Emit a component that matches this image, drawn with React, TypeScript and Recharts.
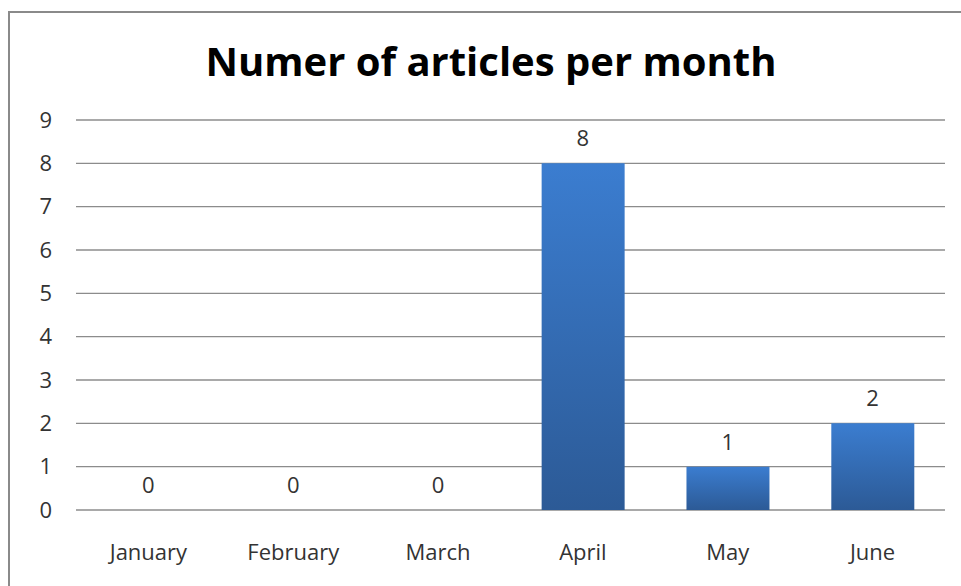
import { Bar, CartesianGrid, ComposedChart, LabelList, Line, XAxis, YAxis } from 'recharts'

const months = ['January', 'February', 'March', 'April', 'May', 'June']
const articleCounts = [0, 0, 0, 8, 1, 2]
const yTicks = [0, 1, 2, 3, 4, 5, 6, 7, 8, 9]

const FONT = '"Open Sans", sans-serif'
const TEXT_COLOR = '#333333'
const LABEL_STYLE = { fontSize: 22, fill: TEXT_COLOR, fontFamily: FONT }

export default function App() {
  const data = months.map((month, i) => ({ month, count: articleCounts[i] }))
  return (
    <div
      style={{
        position: 'fixed',
        left: 0,
        top: 0,
        width: 961,
        height: 586,
        overflow: 'hidden',
        background: '#ffffff',
        fontFamily: FONT,
      }}
    >
      {/* chart frame: runs off the right and bottom edges in the original */}
      <div
        style={{
          position: 'absolute',
          left: 8,
          top: 11,
          width: 1000,
          height: 640,
          border: '2px solid #8a8a8a',
        }}
      />
      <div
        style={{
          position: 'absolute',
          left: 0,
          top: 35,
          width: 982,
          textAlign: 'center',
          fontSize: 40,
          fontWeight: 700,
          lineHeight: '52px',
          color: '#000',
        }}
      >
        Numer of articles per month
      </div>
      <div style={{ position: 'absolute', left: 0, top: 0 }}>
        <ComposedChart
          width={961}
          height={586}
          data={data}
          barCategoryGap="21.5%"
          margin={{ top: 120, right: 16, bottom: 36, left: 16 }}
        >
          <defs>
            <linearGradient id="barFill" x1="0" y1="0" x2="0" y2="1">
              <stop offset="0%" stopColor="#3b7dd0" />
              <stop offset="100%" stopColor="#2c5a96" />
            </linearGradient>
          </defs>
          <CartesianGrid vertical={false} stroke="#8c8c8c" strokeWidth={1.3} />
          <XAxis
            dataKey="month"
            axisLine={false}
            tickLine={false}
            tickSize={0}
            tickMargin={34}
            height={40}
            tick={LABEL_STYLE}
          />
          <YAxis
            domain={[0, 9]}
            ticks={yTicks}
            interval={0}
            axisLine={false}
            tickLine={false}
            tickSize={0}
            tickMargin={24}
            width={60}
            tick={LABEL_STYLE}
          />
          <Bar dataKey="count" fill="url(#barFill)" isAnimationActive={false} />
          {/* invisible series only carries the value labels, so zero months get one too */}
          <Line
            dataKey="count"
            stroke="none"
            dot={false}
            activeDot={false}
            legendType="none"
            isAnimationActive={false}
          >
            <LabelList dataKey="count" position="top" offset={17} style={LABEL_STYLE} />
          </Line>
        </ComposedChart>
      </div>
    </div>
  )
}
